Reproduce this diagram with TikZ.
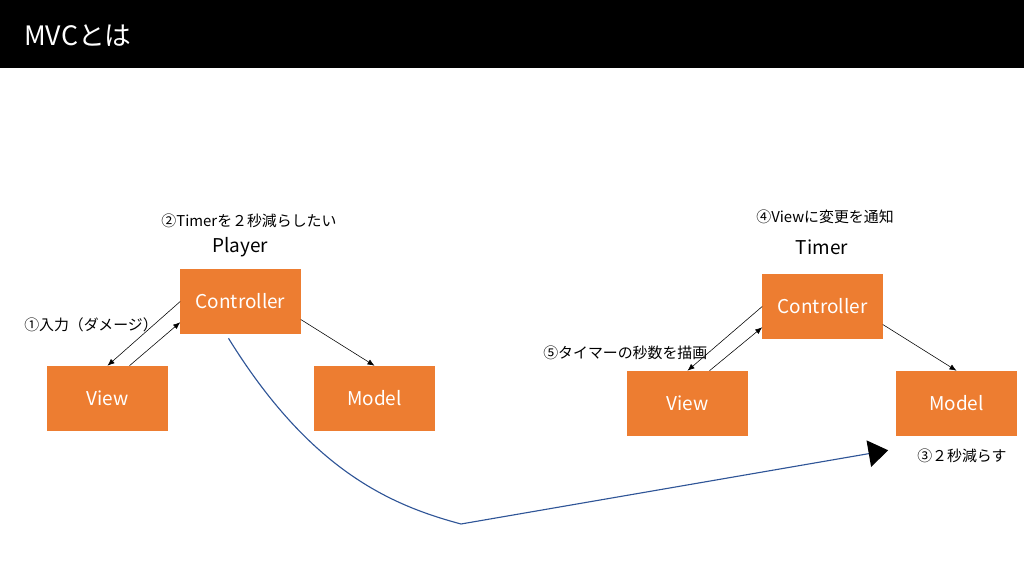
\documentclass[tikz,border=0pt]{standalone}
\usepackage{fontspec}
\setmainfont{Noto Sans CJK JP}
\usepackage{xcolor}
\usepackage{tikz}
\usetikzlibrary{arrows.meta,calc,positioning}
\definecolor{boxorange}{HTML}{ED7D31}
\definecolor{lineblue}{HTML}{2F5597}

\begin{document}
\begin{tikzpicture}[x=0.025cm,y=-0.025cm,
  mvcbox/.style={fill=boxorange,text=white,minimum width=3cm,minimum height=1.625cm,inner sep=0pt,font=\fontsize{13.5}{16}\selectfont},
  note/.style={font=\fontsize{10.6}{12}\selectfont,inner sep=0pt},
  objname/.style={font=\fontsize{13.5}{16}\selectfont,inner sep=0pt},
  link/.style={-{Latex[length=5pt,width=4pt]},line width=0.4pt}]
\useasboundingbox (0,0) rectangle (1024,576);
\fill[black] (0,0) rectangle (1024,68);
\node[anchor=west,text=white,font=\fontsize{19}{22}\selectfont,inner sep=0pt] (title) at (24,36) {MVCとは};
% Player
\node[mvcbox] (ctrlL) at (240.5,301.5) {Controller};
\node[mvcbox] (viewL) at (107.5,398.5) {View};
\node[mvcbox] (modelL) at (374.5,398.5) {Model};
\node[objname] (player) at (240,247) {Player};
\node[note] (noteB) at (249,221) {②Timerを２秒減らしたい};
\node[note,anchor=west] (noteA) at (24,325) {①入力（ダメージ）};
\draw[link] (ctrlL.west) -- (viewL.north);
\draw[link] ([xshift=0.55cm]viewL.north) -- ([yshift=0.3cm]ctrlL.south west);
\draw[link] ([yshift=-0.45cm]ctrlL.east) -- (modelL.north);
% Timer
\node[mvcbox] (ctrlR) at (822.5,306.5) {Controller};
\node[mvcbox] (viewR) at (687.5,403.5) {View};
\node[mvcbox] (modelR) at (956.5,403.5) {Model};
\node[objname] (timer) at (822,247) {Timer};
\node[note] (noteD) at (825,217) {④Viewに変更を通知};
\node[note,anchor=west] (noteE) at (543,353) {⑤タイマーの秒数を描画};
\node[note,anchor=west] (noteC) at (917,456) {③２秒減らす};
\draw[link] (ctrlR.west) -- (viewR.north);
\draw[link] ([xshift=0.55cm]viewR.north) -- ([yshift=0.3cm]ctrlR.south west);
\draw[link] ([yshift=-0.45cm]ctrlR.east) -- (modelR.north);
% Player -> Timer
\coordinate (bend) at (461,524);
\draw[lineblue,line width=0.8pt,-{Triangle[length=14pt,width=19pt,color=black]}]
  ([xshift=-0.3cm,yshift=-0.1cm]ctrlL.south) .. controls (310,470) and (390,505) .. (bend)
  -- ([xshift=-0.2cm,yshift=-0.35cm]modelR.south west);
\end{tikzpicture}
\end{document}
